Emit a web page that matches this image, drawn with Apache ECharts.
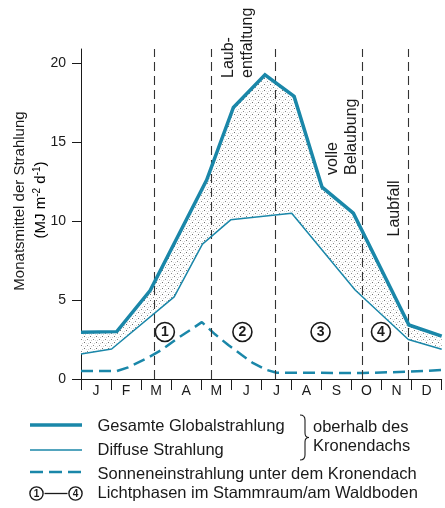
<!DOCTYPE html>
<html>
<head>
<meta charset="utf-8">
<script src="https://cdn.jsdelivr.net/npm/echarts@6/dist/echarts.min.js"></script>
<style>
html,body{margin:0;padding:0;background:#fff;}
#chart{width:445px;height:508px;}
</style>
</head>
<body>
<div id="chart"></div>
<script>
// ---- data (x in months from start of January, y in MJ m-2 d-1) ----
const months = ['J','F','M','A','M','J','J','A','S','O','N','D'];
const yTicks = [0, 5, 10, 15, 20];
const globalX = [0, 1.19, 2.3, 4.18, 5.07, 6.12, 7.09, 8.02, 9.06, 10.91, 12];
const globalY = [2.96, 3.0, 5.6, 12.6, 17.2, 19.26, 17.9, 12.15, 10.5, 3.42, 2.72];
const diffuseX = [0, 1.02, 3.1, 4.04, 4.98, 7.01, 9.12, 10.89, 12];
const diffuseY = [1.58, 1.9, 5.2, 8.54, 10.08, 10.5, 5.64, 2.5, 1.88];
const underX = [0, 1.19, 1.57, 2.19, 2.68, 3.13, 3.63, 4.02, 4.46, 4.9, 5.35, 5.73, 6.18, 6.51, 9.38, 10.89, 12];
const underY = [0.5, 0.5, 0.74, 1.31, 1.84, 2.47, 3.1, 3.6, 2.83, 2.15, 1.52, 1.0, 0.57, 0.4, 0.38, 0.46, 0.57];
const phaseBounds = [2.43, 4.32, 6.46, 9.37, 10.89];
const phaseNames = ['1', '2', '3', '4'];
const phaseX = [2.79, 5.37, 7.97, 9.98];
const phaseY = [2.98, 2.98, 2.98, 2.98];

const TEAL = '#1a87a9';
const INK = '#1a1a1a';
const FONT = '"Liberation Sans", Arial, Helvetica, sans-serif';

// stipple pattern
const pat = document.createElement('canvas');
pat.width = 6; pat.height = 6;
(function(){
  const c = pat.getContext('2d');
  c.fillStyle = '#ffffff'; c.fillRect(0,0,6,6);
  const dots = [[0,0,'#707070'],[3,3,'#8a8a8a'],[4,1,'#cfcfcf'],[1,4,'#cfcfcf'],[2,1,'#e2e2e2'],[5,4,'#e2e2e2']];
  dots.forEach(d => { c.fillStyle = d[2]; c.fillRect(d[0], d[1], 1, 1); });
})();

const zip = (xs, ys) => xs.map((x, i) => [x, ys[i]]);

const chart = echarts.init(document.getElementById('chart'), null, {renderer: 'canvas'});

const rotText = (text, x, y) => ({
  type: 'text', x: x, y: y, rotation: Math.PI / 2, z: 20,
  style: {text: text, fill: INK, font: '16px ' + FONT, textAlign: 'left', textVerticalAlign: 'middle'}
});
const legText = (text, x, y) => ({
  type: 'text', x: x, y: y, z: 20,
  style: {text: text, fill: INK, font: '16.5px ' + FONT, textAlign: 'left', textVerticalAlign: 'middle'}
});
const seg = (x1, y1, x2, y2, w) => ({type: 'line', z: 20, shape: {x1, y1, x2, y2}, style: {stroke: INK, lineWidth: w}});
const curve = (x1, y1, cpx1, cpy1, x2, y2) => ({type: 'bezierCurve', z: 20, shape: {x1, y1, cpx1, cpy1, x2, y2}, style: {stroke: INK, lineWidth: 1.1, fill: null}});

const option = {
  animation: false,
  backgroundColor: '#fff',
  grid: {left: 81, right: 3.3, top: 49, bottom: 129, containLabel: false, outerBoundsMode: 'none'},
  xAxis: [
    {
      type: 'value', min: 0, max: 12, interval: 1,
      axisLine: {show: true, lineStyle: {color: INK, width: 1}},
      axisTick: {show: true, length: 11, lineStyle: {color: INK, width: 1}},
      axisLabel: {show: false},
      splitLine: {show: false}
    },
    {
      type: 'category', data: months, boundaryGap: true, position: 'bottom',
      axisLine: {show: false}, axisTick: {show: false},
      axisLabel: {show: true, margin: 5, color: INK, fontSize: 14, fontFamily: FONT},
      splitLine: {show: false}
    }
  ],
  yAxis: {
    type: 'value', min: 0, max: 20.9,
    axisLine: {show: true, lineStyle: {color: INK, width: 1}},
    axisTick: {show: true, length: 9, customValues: yTicks, lineStyle: {color: INK, width: 1}},
    axisLabel: {show: true, margin: 15, customValues: yTicks, color: INK, fontSize: 14, fontFamily: FONT},
    splitLine: {show: false}
  },
  series: [
    {
      type: 'custom', xAxisIndex: 0, yAxisIndex: 0, data: [[0, 0]], z: 1, silent: true,
      renderItem: function (params, api) {
        const pts = [];
        globalX.forEach((x, i) => pts.push(api.coord([x, globalY[i]])));
        for (let i = diffuseX.length - 1; i >= 0; i--) pts.push(api.coord([diffuseX[i], diffuseY[i]]));
        return {type: 'polygon', shape: {points: pts}, style: {fill: {image: pat, repeat: 'repeat'}, stroke: null}};
      }
    },
    {
      name: 'Sonneneinstrahlung unter dem Kronendach', type: 'line', xAxisIndex: 0, z: 4,
      data: zip(underX, underY), symbol: 'none', smooth: false,
      lineStyle: {color: TEAL, width: 2.5, type: [12, 6]},
      markLine: {
        silent: true, symbol: ['none', 'none'], label: {show: false},
        lineStyle: {color: '#333', width: 1.1, type: [9, 5]},
        data: phaseBounds.map(v => ({xAxis: v}))
      }
    },
    {
      name: 'Diffuse Strahlung', type: 'line', xAxisIndex: 0, z: 5,
      data: zip(diffuseX, diffuseY), symbol: 'none',
      lineStyle: {color: TEAL, width: 1.5}
    },
    {
      name: 'Gesamte Globalstrahlung', type: 'line', xAxisIndex: 0, z: 6,
      data: zip(globalX, globalY), symbol: 'none',
      lineStyle: {color: TEAL, width: 3.5, join: 'miter'}
    },
    {
      type: 'scatter', xAxisIndex: 0, z: 7, silent: true,
      data: phaseX.map((x, i) => ({value: [x, phaseY[i]], name: phaseNames[i]})),
      symbol: 'circle', symbolSize: 19,
      itemStyle: {color: '#fff', borderColor: INK, borderWidth: 1.6, opacity: 1},
      label: {show: true, position: 'inside', formatter: '{b}', color: INK, fontSize: 14, fontWeight: 'bold', fontFamily: FONT}
    }
  ],
  graphic: [
    // y-axis title
    {
      type: 'text', x: 20, y: 201, rotation: Math.PI / 2, z: 20,
      style: {text: 'Monatsmittel der Strahlung', fill: INK, font: '15px ' + FONT, textAlign: 'center', textVerticalAlign: 'middle'}
    },
    {
      type: 'text', x: 39, y: 200, rotation: Math.PI / 2, z: 20,
      style: {
        text: '{n|(MJ m}{s|-2}{n| d}{s|-1}{n|)}', textAlign: 'center', textVerticalAlign: 'middle',
        rich: {
          n: {fontSize: 15, fontFamily: FONT, color: INK, lineHeight: 18, verticalAlign: 'bottom'},
          s: {fontSize: 10, fontFamily: FONT, color: INK, lineHeight: 18, verticalAlign: 'bottom', padding: [0, 0, 6, 0]}
        }
      }
    },
    // annotations
    rotText('Laub-', 229, 78),
    rotText('entfaltung', 248, 78),
    rotText('volle', 333, 175),
    rotText('Belaubung', 351.5, 175),
    rotText('Laubfall', 395, 236.5),
    // legend
    {type: 'line', z: 20, shape: {x1: 30, y1: 425, x2: 82, y2: 425}, style: {stroke: TEAL, lineWidth: 3.5}},
    {type: 'line', z: 20, shape: {x1: 30, y1: 450, x2: 82, y2: 450}, style: {stroke: TEAL, lineWidth: 1.5}},
    {type: 'line', z: 20, shape: {x1: 30, y1: 472, x2: 82, y2: 472}, style: {stroke: TEAL, lineWidth: 2.5, lineDash: [13, 6]}},
    legText('Gesamte Globalstrahlung', 97.5, 426),
    legText('Diffuse Strahlung', 97.5, 450.5),
    legText('Sonneneinstrahlung unter dem Kronendach', 97.5, 474),
    legText('Lichtphasen im Stammraum/am Waldboden', 97.5, 493.5),
    legText('oberhalb des', 313, 427.5),
    legText('Kronendachs', 313, 446.5),
    // brace
    curve(300, 415, 305, 415, 305, 420),
    seg(305, 420, 305, 433, 1.1),
    curve(305, 433, 305, 437.5, 309, 437.5),
    curve(309, 437.5, 305, 437.5, 305, 442),
    seg(305, 442, 305, 455, 1.1),
    curve(305, 455, 305, 460, 300, 460),
    // 1-4 symbol
    {type: 'circle', z: 20, shape: {cx: 36.5, cy: 493.5, r: 6.6}, style: {stroke: INK, lineWidth: 1.4, fill: '#fff'}},
    seg(44.5, 493.5, 67.5, 493.5, 1.3),
    {type: 'circle', z: 20, shape: {cx: 75.5, cy: 493.5, r: 6.6}, style: {stroke: INK, lineWidth: 1.4, fill: '#fff'}},
    {type: 'text', x: 36.5, y: 494, z: 21, style: {text: '1', fill: INK, font: 'bold 10px ' + FONT, textAlign: 'center', textVerticalAlign: 'middle'}},
    {type: 'text', x: 75.5, y: 494, z: 21, style: {text: '4', fill: INK, font: 'bold 10px ' + FONT, textAlign: 'center', textVerticalAlign: 'middle'}}
  ]
};
chart.setOption(option);
</script>
</body>
</html>
